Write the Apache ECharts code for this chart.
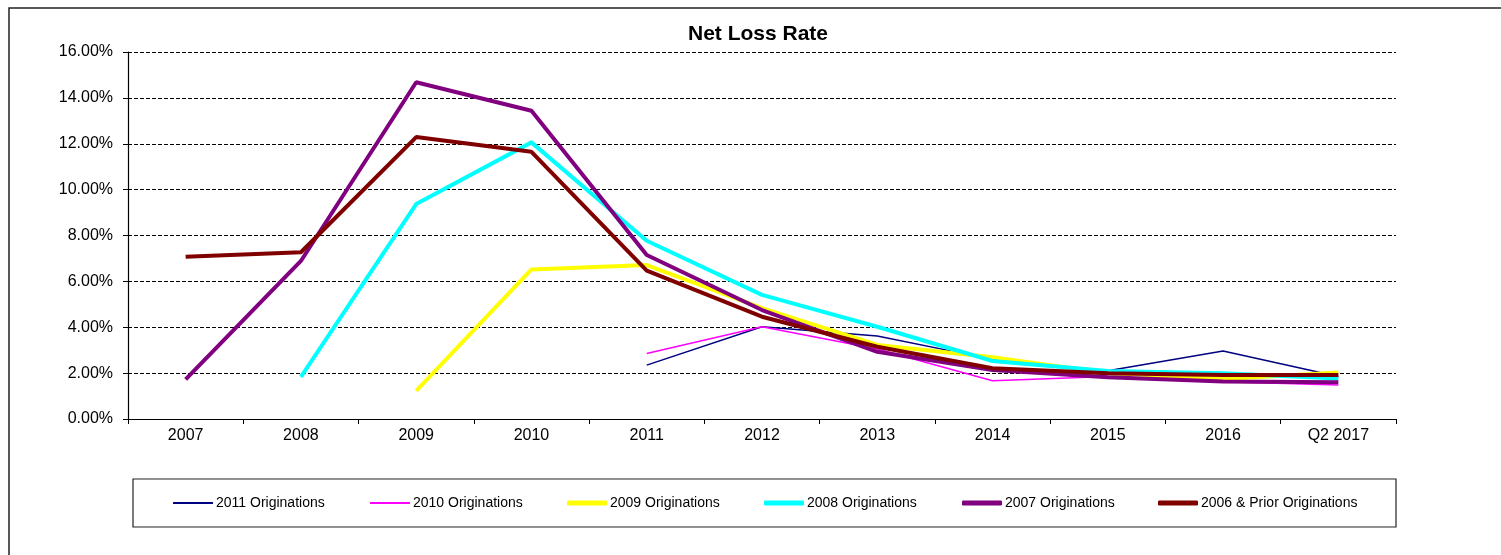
<!DOCTYPE html>
<html>
<head>
<meta charset="utf-8">
<script src="https://cdn.jsdelivr.net/npm/echarts@6/dist/echarts.min.js"></script>
<style>
  html, body { margin: 0; padding: 0; background: #fff; }
  #chart { width: 1501px; height: 555px; }
</style>
</head>
<body>
<div id="chart"></div>
<script>
// categories on the x axis
const periods = ['2007', '2008', '2009', '2010', '2011', '2012', '2013', '2014', '2015', '2016', 'Q2 2017']

// net loss rate in percent, null = no data yet for that vintage
const orig2011 = [null, null, null, null, 2.35, 4.02, 3.62, 2.6, 2.1, 2.96, 1.85]
const orig2010 = [null, null, null, null, 2.86, 4.02, 3.05, 1.67, 1.85, 1.62, 1.48]
const orig2009 = [null, null, 1.23, 6.52, 6.71, 4.83, 3.23, 2.69, 2.0, 1.74, 2.03]
const orig2008 = [null, 1.84, 9.37, 12.06, 7.77, 5.41, 4.02, 2.53, 2.09, 1.99, 1.77]
const orig2007 = [1.73, 6.89, 14.68, 13.44, 7.15, 4.75, 2.93, 2.14, 1.82, 1.63, 1.60]
const orig2006 = [7.07, 7.27, 12.29, 11.65, 6.47, 4.46, 3.15, 2.21, 1.99, 1.92, 1.92]

const seriesNames = ['2011 Originations', '2010 Originations', '2009 Originations',
  '2008 Originations', '2007 Originations', '2006 & Prior Originations']
const seriesData = [orig2011, orig2010, orig2009, orig2008, orig2007, orig2006]
const colors = ['#000080', '#ff00ff', '#ffff00', '#00ffff', '#800080', '#800000']
const widths = [1.5, 1.5, 4, 4, 4, 4]

const chart = echarts.init(document.getElementById('chart'))

// each legend entry sits in its own fixed slot, like the excel legend
const legendX = [173, 370, 567, 764, 962, 1158]
const legends = seriesNames.map((name, i) => ({
  data: [name],
  left: legendX[i],
  top: 496,
  padding: 0,
  icon: 'roundRect',
  itemWidth: 40,
  itemHeight: widths[i] > 2 ? 5 : 2,
  itemGap: 0,
  textStyle: { fontFamily: 'Liberation Sans', fontSize: 14, color: '#000', padding: [0, 0, 0, -2] }
}))

const option = {
  backgroundColor: '#fff',
  animation: false,
  title: {
    text: 'Net Loss Rate',
    left: 753,
    textAlign: 'center',
    top: 19,
    textStyle: { fontFamily: 'Liberation Sans', fontSize: 21, fontWeight: 'bold', color: '#000' }
  },
  graphic: [
    {
      type: 'rect',
      shape: { x: 9, y: 8, width: 1600, height: 600 },
      style: { fill: 'none', stroke: '#222', lineWidth: 1.5 },
      silent: true
    },
    {
      type: 'rect',
      shape: { x: 133, y: 479, width: 1263, height: 48 },
      style: { fill: 'none', stroke: '#222', lineWidth: 1.2 },
      silent: true
    }
  ],
  legend: legends,
  grid: { left: 128, right: 105, top: 52, bottom: 136 },
  xAxis: {
    type: 'category',
    data: periods,
    boundaryGap: true,
    axisLine: { lineStyle: { color: '#000', width: 1.2 } },
    axisTick: { show: true, inside: false, length: 5, lineStyle: { color: '#000' } },
    axisLabel: { fontFamily: 'Liberation Sans', fontSize: 16, color: '#000', margin: 9 }
  },
  yAxis: {
    type: 'value',
    min: 0,
    max: 16,
    interval: 2,
    axisLine: { show: true, lineStyle: { color: '#000', width: 1.2 } },
    axisTick: { show: true, inside: false, length: 5, lineStyle: { color: '#000' } },
    axisLabel: {
      fontFamily: 'Liberation Sans', fontSize: 16, color: '#000', margin: 15,
      formatter: v => v.toFixed(2) + '%'
    },
    splitLine: { show: true, lineStyle: { color: '#000', type: [4, 2], width: 1 } }
  },
  series: seriesNames.map((name, i) => ({
    name: name,
    type: 'line',
    data: seriesData[i],
    symbol: 'none',
    connectNulls: false,
    color: colors[i],
    lineStyle: { color: colors[i], width: widths[i] }
  }))
}

chart.setOption(option)
</script>
</body>
</html>
